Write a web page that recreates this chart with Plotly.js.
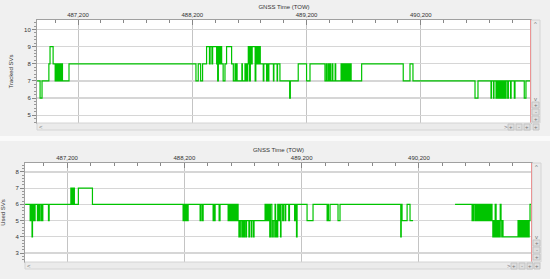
<!DOCTYPE html>
<html>
<head>
<meta charset="utf-8">
<script src="https://cdn.plot.ly/plotly-3.0.1.min.js"></script>
<style>
  html, body { margin: 0; padding: 0; background: #f0f0f0; }
  #graph { width: 550px; height: 279px; }
</style>
</head>
<body>
<div id="graph"></div>
<script>
// step changes: [TOW seconds, number of SVs]
var trackedSteps = [
    [486842, 7], [486868, 6], [486885, 7], [486945, 8], [486955, 9], [486982, 8],
    [487000, 7], [487006, 8], [487012, 7], [487018, 8], [487024, 7], [487030, 8],
    [487036, 7], [487044, 8], [487050, 7], [487058, 8], [487064, 7], [487121, 8],
    [488232, 7], [488252, 8], [488273, 7], [488290, 8],
    [488325, 9], [488350, 8], [488356, 9], [488372, 8], [488378, 9],
    [488413, 8], [488418, 9], [488422, 7], [488428, 9], [488434, 8], [488440, 9],
    [488446, 8], [488451, 9], [488457, 8], [488470, 7], [488486, 8],
    [488500, 9], [488544, 8], [488559, 7], [488574, 8], [488578, 7], [488588, 8],
    [488592, 7], [488634, 8], [488638, 7],
    [488661, 8], [488664, 7], [488668, 8], [488672, 7], [488676, 8], [488680, 7], [488684, 8],
    [488690, 9], [488700, 7], [488708, 9], [488716, 8], [488724, 9], [488750, 7],
    [488756, 9], [488762, 8], [488768, 9], [488774, 8], [488780, 9], [488786, 8],
    [488792, 9], [488795, 8],
    [488821, 7], [488826, 8], [488850, 7], [488856, 8], [488866, 7], [488870, 8],
    [488910, 7], [488914, 8], [488942, 7], [488946, 8],
    [488967, 7], [489052, 6], [489058, 7], [489127, 8], [489200, 7], [489230, 8],
    [489361, 7], [489373, 8], [489378, 7], [489390, 8], [489396, 7], [489405, 8],
    [489411, 7], [489425, 8], [489430, 7], [489450, 8], [489455, 7],
    [489502, 8], [489506, 7], [489512, 8], [489518, 7], [489524, 8], [489530, 7],
    [489536, 8], [489542, 7], [489548, 8], [489555, 7], [489562, 8], [489570, 7],
    [489580, 8], [489590, 7], [489682, 8],
    [490046, 7], [490105, 8], [490131, 7], [490674, 6], [490700, 7],
    [490814, 6], [490818, 7], [490836, 6], [490840, 7], [490858, 6], [490862, 7],
    [490872, 6], [490878, 7], [490884, 6], [490890, 7], [490896, 6], [490902, 7],
    [490910, 6], [490916, 7], [490922, 6], [490930, 7], [490940, 6], [490946, 7],
    [490960, 6], [490966, 7], [490985, 6], [490990, 7], [491018, 6], [491024, 7],
    [491105, 6], [491120, 7], [491160, 7]
];

var usedSteps = [
    [486842, 6], [486885, 5], [486889, 6], [486893, 5], [486897, 6], [486901, 4],
    [486905, 5], [486910, 6], [486914, 5], [486918, 6], [486922, 5], [486927, 6],
    [486947, 5], [486951, 6], [486960, 5], [486964, 6], [486976, 5], [486980, 6],
    [486989, 5], [486993, 6], [487041, 5], [487047, 6],
    [487232, 7], [487236, 6], [487241, 7], [487245, 6], [487254, 7], [487262, 6],
    [487296, 7], [487416, 6],
    [488189, 5], [488193, 6], [488197, 5], [488201, 6], [488205, 5], [488210, 6],
    [488214, 5], [488218, 6], [488222, 5], [488232, 6],
    [488334, 5], [488340, 6], [488352, 5], [488360, 6],
    [488445, 5], [488449, 6], [488456, 5], [488462, 6], [488496, 5], [488504, 6],
    [488573, 5], [488577, 6], [488581, 5], [488585, 6], [488589, 5], [488593, 6],
    [488597, 5], [488601, 6], [488605, 5], [488610, 6], [488614, 5], [488618, 6],
    [488622, 5], [488630, 6], [488634, 5], [488640, 6], [488646, 5], [488652, 6],
    [488658, 5], [488665, 4], [488669, 5], [488680, 4], [488684, 5], [488696, 4],
    [488700, 5], [488710, 4], [488714, 5], [488725, 4], [488730, 5], [488750, 4],
    [488755, 5], [488770, 4], [488774, 5], [488788, 4], [488794, 5],
    [488888, 6], [488895, 5], [488902, 6], [488910, 5], [488920, 6], [488928, 4],
    [488934, 6], [488946, 4], [488950, 5], [488962, 4], [488966, 5], [488973, 6],
    [488978, 4], [488984, 5], [488992, 4], [488996, 6], [489004, 5], [489010, 6],
    [489020, 4], [489024, 6], [489038, 5], [489044, 6],
    [489058, 5], [489064, 6], [489090, 5], [489096, 6], [489140, 5], [489146, 6],
    [489156, 4], [489161, 6], [489246, 5], [489297, 6],
    [489417, 5], [489423, 6], [489428, 5], [489442, 6], [489510, 5], [489527, 6],
    [490045, 4], [490049, 6], [490056, 5], [490099, 6], [490124, 5], [490150, 5],
    [490151, null],
    [490508, 6], [490653, 5], [490657, 6], [490662, 5], [490668, 6], [490680, 5],
    [490690, 6], [490700, 5], [490706, 6], [490716, 5], [490722, 6], [490728, 5],
    [490735, 6], [490742, 5], [490750, 6], [490756, 5], [490764, 6], [490770, 5],
    [490776, 6], [490782, 5], [490788, 6], [490796, 5], [490802, 6], [490810, 5],
    [490816, 6], [490823, 5], [490830, 4], [490836, 5], [490842, 4], [490850, 6],
    [490858, 4], [490864, 5], [490872, 4], [490880, 5], [490887, 4], [490893, 6],
    [490900, 5], [490906, 4], [490912, 5], [490917, 4],
    [491045, 5], [491050, 4], [491055, 5], [491060, 4], [491066, 5], [491072, 4],
    [491080, 5], [491090, 4], [491096, 5], [491104, 4], [491112, 5], [491120, 4],
    [491126, 5], [491134, 4], [491140, 5], [491147, 6], [491162, 6]
];

var towRange = [486841, 491164];
var cursorTow = 491160;
var xTitle = "GNSS Time (TOW)";
var trackedTitle = "Tracked SVs";
var usedTitle = "Used SVs";

var W = 550, H = 279;
function px(x) { return x / W; }
function py(y) { return 1 - y / H; }

var font = { family: "Liberation Sans, Arial, sans-serif", size: 6, color: "#333333" };
var green = "#00c400";

function stepTrace(steps, xa, ya) {
    return {
        x: steps.map(function (s) { return s[0]; }),
        y: steps.map(function (s) { return s[1]; }),
        xaxis: xa, yaxis: ya,
        type: "scatter", mode: "lines",
        line: { shape: "hv", color: green, width: 1.2 },
        connectgaps: false,
        hoverinfo: "skip"
    };
}

function xAxis(domain, anchor) {
    return {
        domain: domain, anchor: anchor, side: "top",
        range: towRange, tick0: 487200, dtick: 1000, tickformat: ",d",
        ticks: "inside", ticklen: 5, tickcolor: "#888888",
        minor: { dtick: 200, tick0: 487200, ticks: "inside", ticklen: 3, tickcolor: "#888888", showgrid: false },
        showgrid: true, gridcolor: "#c4c4c4", gridwidth: 1,
        showline: true, linecolor: "#a0a0a0", mirror: true, zeroline: false,
        tickfont: font,
        title: { text: xTitle, font: font, standoff: 1 },
        fixedrange: true
    };
}

function yAxis(domain, anchor, range, title) {
    return {
        domain: domain, anchor: anchor, range: range, dtick: 1,
        ticks: "outside", ticklen: 4, tickcolor: "#888888",
        minor: { dtick: 0.2, ticks: "outside", ticklen: 2, tickcolor: "#999999", showgrid: false },
        showgrid: true, gridcolor: "#d6d6d6", gridwidth: 1.3,
        showline: true, linecolor: "#a0a0a0", mirror: true, zeroline: false,
        tickfont: font,
        title: { text: title, font: font, standoff: 10 },
        fixedrange: true
    };
}

// scroll bars and little buttons around each plot
function chrome(left, right, top, bottom, btnY, btnXs, sideBtnYs) {
    var shapes = [], notes = [];
    function rect(x0, y0, x1, y1, fill, line) {
        shapes.push({ type: "rect", xref: "paper", yref: "paper",
            x0: px(x0), x1: px(x1), y0: py(y1), y1: py(y0),
            fillcolor: fill, line: { color: line, width: 1 }, layer: "above" });
    }
    function glyph(x, y, t) {
        notes.push({ xref: "paper", yref: "paper", x: px(x), y: py(y), text: t,
            showarrow: false, font: { family: font.family, size: 6, color: "#777777" },
            xanchor: "center", yanchor: "middle" });
    }
    rect(left, bottom, right, bottom + 7, "#ebebeb", "#d4d4d4");
    rect(right, top, right + 9, bottom, "#ebebeb", "#d4d4d4");
    glyph(left + 4, bottom + 3.5, "<");
    glyph(btnXs[0] - 5, btnY, ">");
    glyph(right + 4.5, top + 4, "^");
    glyph(right + 4.5, sideBtnYs[0] - 6, "v");
    var labs = ["+", "-", "+"];
    sideBtnYs.forEach(function (y, i) {
        rect(right + 1, y - 3, right + 8, y + 3, "#dedede", "#c4c4c4");
        glyph(right + 4.5, y, labs[i]);
    });
    var blabs = ["+", "-", "+", "+"];
    btnXs.forEach(function (x, i) {
        rect(x - 3, btnY - 3, x + 3, btnY + 3, "#dedede", "#c4c4c4");
        glyph(x, btnY, blabs[i]);
    });
    return { shapes: shapes, notes: notes };
}

var c1 = chrome(37, 531, 20, 123, 127, [511, 519, 527, 536], [105, 112, 119]);
var c2 = chrome(25, 532, 163, 262, 266, [514, 522, 530, 537], [243, 250, 257]);

var shapes = [
    { type: "rect", xref: "paper", yref: "paper", x0: 0, x1: 1, y0: py(141), y1: py(136),
      fillcolor: "#fafafa", line: { width: 0 }, layer: "below" },
    { type: "line", xref: "x", yref: "paper", x0: cursorTow, x1: cursorTow, y0: py(123), y1: py(20),
      line: { color: "#ff5050", width: 1 }, layer: "above" },
    { type: "line", xref: "x2", yref: "paper", x0: cursorTow, x1: cursorTow, y0: py(262), y1: py(163),
      line: { color: "#ff5050", width: 1 }, layer: "above" }
].concat(c1.shapes, c2.shapes);

var data = [stepTrace(trackedSteps, "x", "y"), stepTrace(usedSteps, "x2", "y2")];

var layout = {
    width: W, height: H,
    margin: { l: 0, r: 0, t: 0, b: 0 },
    paper_bgcolor: "#f0f0f0", plot_bgcolor: "#ffffff",
    showlegend: false,
    font: font,
    xaxis: xAxis([px(37), px(531)], "y"),
    yaxis: yAxis([py(123), py(20)], "x", [4.55, 10.55], trackedTitle),
    xaxis2: xAxis([px(25), px(532)], "y2"),
    yaxis2: yAxis([py(262), py(163)], "x2", [2.45, 8.55], usedTitle),
    shapes: shapes,
    annotations: c1.notes.concat(c2.notes)
};

Plotly.newPlot("graph", data, layout, { displayModeBar: false, staticPlot: true });
</script>
</body>
</html>
